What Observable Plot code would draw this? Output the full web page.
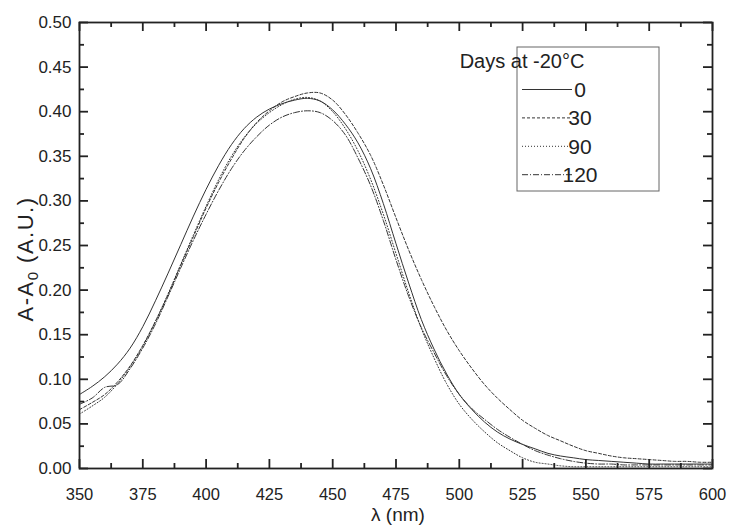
<!DOCTYPE html>
<html><head><meta charset="utf-8">
<script src="https://cdn.jsdelivr.net/npm/d3@7"></script>
<script src="https://cdn.jsdelivr.net/npm/@observablehq/plot@0.6"></script>
<style>
body{margin:0;background:#fff;}
#chart{position:relative;width:730px;height:525px;}
</style>
</head><body><div id="chart"></div>
<script>
// wavelength grid (nm)
const wavelengths = [350,355,360,365,370,375,380,385,390,395,400,405,410,415,420,425,430,435,440,445,450,455,460,465,470,475,480,485,490,495,500,505,510,515,520,525,530,535,540,545,550,555,560,565,570,575,580,585,590,595,600];
// Days at -20°C = 0
const days0 = [0.083,0.092,0.103,0.117,0.135,0.159,0.188,0.219,0.251,0.283,0.313,0.340,0.363,0.381,0.394,0.403,0.409,0.413,0.415,0.412,0.402,0.386,0.365,0.336,0.297,0.252,0.208,0.167,0.134,0.106,0.083,0.066,0.052,0.041,0.033,0.027,0.022,0.017,0.014,0.012,0.010,0.009,0.008,0.007,0.006,0.005,0.005,0.005,0.005,0.005,0.005];
// Days at -20°C = 30
const days30 = [0.066,0.074,0.083,0.097,0.115,0.138,0.165,0.195,0.228,0.260,0.292,0.321,0.347,0.370,0.388,0.401,0.411,0.417,0.421,0.421,0.413,0.397,0.376,0.351,0.318,0.281,0.245,0.212,0.182,0.155,0.132,0.112,0.094,0.079,0.066,0.054,0.045,0.037,0.031,0.025,0.020,0.017,0.014,0.012,0.011,0.010,0.009,0.008,0.008,0.007,0.007];
// Days at -20°C = 90
const days90 = [0.061,0.070,0.080,0.095,0.114,0.137,0.165,0.196,0.229,0.262,0.294,0.324,0.350,0.371,0.387,0.399,0.408,0.414,0.416,0.412,0.400,0.381,0.356,0.324,0.285,0.241,0.197,0.157,0.124,0.095,0.072,0.055,0.041,0.029,0.020,0.012,0.007,0.005,0.003,0.002,0.002,0.002,0.002,0.002,0.002,0.002,0.002,0.002,0.002,0.002,0.002];
// Days at -20°C = 120
const days120 = [0.072,0.079,0.091,0.094,0.112,0.135,0.162,0.193,0.225,0.256,0.285,0.312,0.336,0.356,0.372,0.385,0.394,0.399,0.401,0.399,0.390,0.374,0.348,0.317,0.278,0.234,0.193,0.158,0.130,0.104,0.083,0.067,0.055,0.044,0.035,0.027,0.020,0.015,0.011,0.008,0.006,0.005,0.005,0.004,0.004,0.004,0.004,0.004,0.004,0.004,0.004];

const seriesNames = ["0","30","90","120"];
const seriesDash = ["none","3,2","1,2","6,2,1,2"];
const legendTitle = "Days at -20°C";
const xLabel = "λ (nm)";

const xMajor = d3.range(350, 601, 25);
const xMinor = d3.range(362.5, 600, 25);
const yMajor = d3.range(0, 11).map(i => i * 0.05);
const yMinor = d3.range(0, 10).map(i => i * 0.05 + 0.025);

const allSeries = [days0, days30, days90, days120];
const rows = allSeries.flatMap((arr, k) => wavelengths.map((w, i) => ({lambda: w, value: arr[i], days: seriesNames[k]})));

const W = 730, H = 525, mL = 79, mR = 18, mT = 22, mB = 57;
const innerW = W - mL - mR, innerH = H - mT - mB;
const ink = "#222";
const ff = '"Liberation Sans", Arial, sans-serif';

const lineMarks = seriesNames.map((name, k) =>
  Plot.line(rows.filter(d => d.days === name), {
    x: "lambda", y: "value", curve: "catmull-rom",
    stroke: "#333", strokeWidth: 1, strokeDasharray: seriesDash[k] === "none" ? null : seriesDash[k]
  })
);

const chart = Plot.plot({
  width: W, height: H,
  marginLeft: mL, marginRight: mR, marginTop: mT, marginBottom: mB,
  style: {fontFamily: ff, background: "#fff", color: ink},
  x: {domain: [350, 600]},
  y: {domain: [0, 0.5]},
  marks: [
    ...lineMarks,
    Plot.tickX(xMajor, {x: d => d, insetTop: innerH - 9, stroke: ink, strokeWidth: 1.8}),
    Plot.tickX(xMinor, {x: d => d, insetTop: innerH - 5, stroke: ink, strokeWidth: 1.8}),
    Plot.tickX(xMajor, {x: d => d, insetBottom: innerH - 9, stroke: ink, strokeWidth: 1.8}),
    Plot.tickX(xMinor, {x: d => d, insetBottom: innerH - 5, stroke: ink, strokeWidth: 1.8}),
    Plot.tickY(yMajor, {y: d => d, insetRight: innerW - 9, stroke: ink, strokeWidth: 1.8}),
    Plot.tickY(yMinor, {y: d => d, insetRight: innerW - 5, stroke: ink, strokeWidth: 1.8}),
    Plot.tickY(yMajor, {y: d => d, insetLeft: innerW - 9, stroke: ink, strokeWidth: 1.8}),
    Plot.tickY(yMinor, {y: d => d, insetLeft: innerW - 5, stroke: ink, strokeWidth: 1.8}),
    Plot.axisX(xMajor, {tickSize: 0, tickPadding: 20, fontSize: 16.5, tickFormat: d => String(d), label: null, fill: ink}),
    Plot.axisY(yMajor, {tickSize: 0, tickPadding: 8, fontSize: 17, tickFormat: d3.format(".2f"), label: null, fill: ink}),
    Plot.frame({stroke: ink, strokeWidth: 1.8})
  ]
});

document.getElementById("chart").appendChild(chart);

const svg = d3.select(chart);

svg.append("text")
  .attr("x", 398).attr("y", 521)
  .attr("text-anchor", "middle")
  .attr("font-family", ff).attr("font-size", 19).attr("fill", ink)
  .text(xLabel);

const yl = svg.append("text")
  .attr("transform", "translate(33,259) rotate(-90)")
  .attr("text-anchor", "middle")
  .attr("font-family", ff).attr("font-size", 22).attr("letter-spacing", 1.5).attr("fill", ink);
yl.append("tspan").text("A-A");
yl.append("tspan").attr("font-size", 15).attr("dy", 5).text("0");
yl.append("tspan").attr("dy", -5).text(" (A.U.)");

const lg = svg.append("g");
lg.append("rect").attr("x", 517).attr("y", 47).attr("width", 142).attr("height", 144)
  .attr("fill", "#fff").attr("stroke", "#666").attr("stroke-width", 1);
lg.append("text").attr("x", 522).attr("y", 68)
  .attr("font-family", ff).attr("font-size", 20).attr("fill", ink).text(legendTitle);
seriesNames.forEach((name, k) => {
  const base = 97 + k * 28.4;
  lg.append("line").attr("x1", 522).attr("x2", 572).attr("y1", base - 7.5).attr("y2", base - 7.5)
    .attr("stroke", "#333").attr("stroke-width", 1)
    .attr("stroke-dasharray", seriesDash[k] === "none" ? null : seriesDash[k]);
  lg.append("text").attr("x", 580).attr("y", base)
    .attr("font-family", ff).attr("font-size", 21).attr("fill", ink).text(name);
});
</script>
</body></html>
